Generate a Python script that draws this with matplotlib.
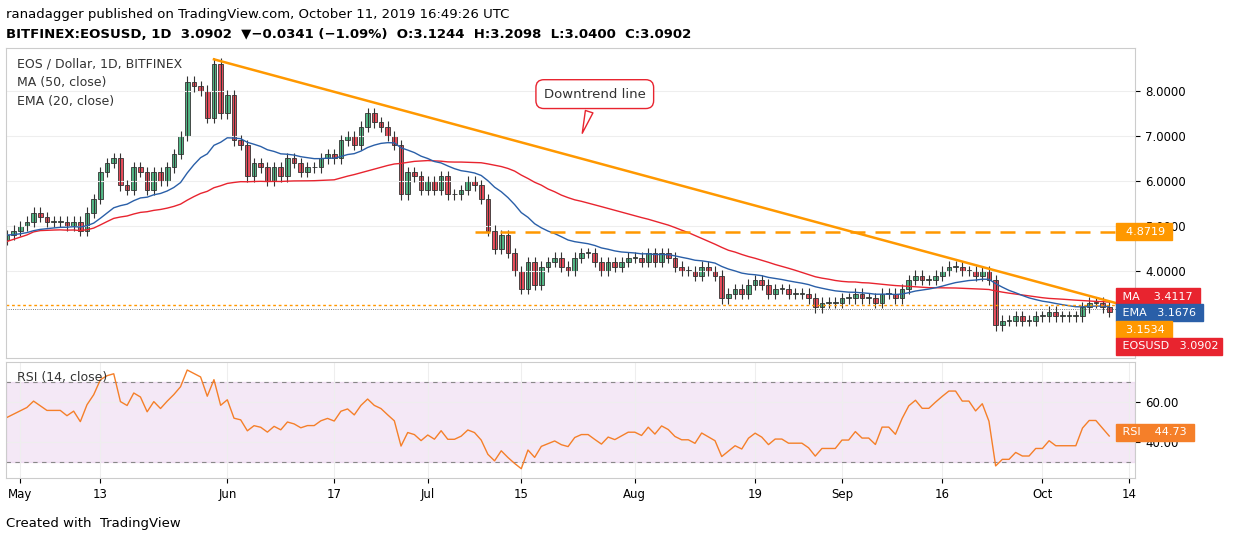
import numpy as np
import pandas as pd
import matplotlib.pyplot as plt

# daily closes from Apr 29 to Oct 11, 2019
closes = [
    4.8, 4.9, 5.0, 5.1, 5.3, 5.2, 5.1,
    5.1, 5.1, 5.0, 5.1, 4.9, 5.3, 5.6,
    6.2, 6.4, 6.5, 5.9, 5.8, 6.3, 6.2,
    5.8, 6.2, 6.0, 6.3, 6.6, 7.0, 8.2,
    8.1, 8.0, 7.4, 8.6, 7.5, 7.9, 6.9,
    6.8, 6.1, 6.4, 6.3, 6.0, 6.3, 6.1,
    6.5, 6.4, 6.2, 6.3, 6.3, 6.5, 6.6,
    6.5, 6.9, 7.0, 6.8, 7.2, 7.5, 7.3,
    7.2, 7.0, 6.8, 5.7, 6.2, 6.1, 5.8,
    6.0, 5.8, 6.1, 5.7, 5.7, 5.8, 6.0,
    5.9, 5.6, 4.9, 4.5, 4.8, 4.4, 4.0,
    3.6, 4.2, 3.7, 4.1, 4.2, 4.3, 4.1,
    4.0, 4.3, 4.4, 4.4, 4.2, 4.0, 4.2,
    4.1, 4.2, 4.3, 4.3, 4.2, 4.4, 4.2,
    4.4, 4.3, 4.1, 4.0, 4.0, 3.9, 4.1,
    4.0, 3.9, 3.4, 3.5, 3.6, 3.5, 3.7,
    3.8, 3.7, 3.5, 3.6, 3.6, 3.5, 3.5,
    3.5, 3.4, 3.2, 3.3, 3.3, 3.3, 3.4,
    3.4, 3.5, 3.4, 3.4, 3.3, 3.5, 3.5,
    3.4, 3.6, 3.8, 3.9, 3.8, 3.8, 3.9,
    4.0, 4.1, 4.1, 4.0, 4.0, 3.9, 4.0,
    3.8, 2.8, 2.9, 2.9, 3.0, 2.9, 2.9,
    3.0, 3.0, 3.1, 3.0, 3.0, 3.0, 3.0,
    3.2, 3.3, 3.3, 3.2, 3.09,
]
dates = pd.date_range("2019-04-29", periods=len(closes), freq="D")
opens = [4.7] + closes[:-1]
tick_labels = ["May", "13", "Jun", "17", "Jul", "15", "Aug", "19", "Sep", "16", "Oct", "14"]
tick_dates = ["2019-05-01", "2019-05-13", "2019-06-01", "2019-06-17", "2019-07-01", "2019-07-15",
              "2019-08-01", "2019-08-19", "2019-09-01", "2019-09-16", "2019-10-01", "2019-10-14"]

s = pd.Series(closes)
ma50 = s.rolling(50, min_periods=1).mean() * 0.97
ema20 = s.ewm(span=20, adjust=False).mean()
d = s.diff().fillna(0)
# Wilder RSI, seeded with a typical daily move so the first bars are not extreme
up, dn, rsi = 0.12, 0.11, []
for v in d:
    up = (up * 13 + max(v, 0)) / 14
    dn = (dn * 13 + max(-v, 0)) / 14
    rsi.append(100 - 100 / (1 + up / dn))
rsi = np.array(rsi)

GREEN, RED = "#53b987", "#eb4d5c"
fig = plt.figure(figsize=(12.34, 5.4), dpi=100)
ax = fig.add_axes([0.005, 0.337, 0.915, 0.574])
ax2 = fig.add_axes([0.005, 0.115, 0.915, 0.215])
x = np.arange(len(closes))
for i in x:
    o, c = opens[i], closes[i]
    col = GREEN if c >= o else RED
    ax.vlines(i, min(o, c) - 0.12, max(o, c) + 0.12, color="#333333", lw=0.8)
    ax.bar(i, max(abs(c - o), 0.02), bottom=min(o, c), width=0.7, color=col, edgecolor="#333333", lw=0.6)
ax.plot(x, ma50, color="#e8242f", lw=1)
ax.plot(x, ema20, color="#2a5fa8", lw=1)
# downtrend line
ax.plot([31, 167], [8.7, 3.25], color="#ff9800", lw=1.8)
ax.hlines(4.8719, 70, 172, color="#ff9800", lw=1.8, linestyles=(0, (6, 4)))
ax.axhline(3.25, color="#ff9800", lw=1, ls=(0, (2, 2)))
ax.axhline(3.1534, color="#555555", lw=0.6, ls=":")
XL = (-0.1, 168.9)
ax.set_xlim(*XL)
ax.set_ylim(2.07, 8.95)
ax.yaxis.tick_right()
ax.set_yticks([4, 5, 6, 7, 8])
ax.set_yticklabels(["4.0000", "5.0000", "6.0000", "7.0000", "8.0000"], fontsize=8.5)
ax.set_xticks([])
ax.grid(color="#eeeeee", lw=0.8)
ax.text(0.01, 0.97, "EOS / Dollar, 1D, BITFINEX\nMA (50, close)\nEMA (20, close)", transform=ax.transAxes,
        va="top", fontsize=9, color="#333333", linespacing=1.6)
for y, lab, col in [(4.8719, "  4.8719 ", "#ff9800"), (3.43, " MA    3.4117 ", "#e8242f"),
                    (3.08, " EMA   3.1676 ", "#2a5fa8"), (2.70, "  3.1534 ", "#ff9800"),
                    (2.33, " EOSUSD   3.0902", "#e8242f")]:
    ax.text(0.986, y, lab, transform=ax.get_yaxis_transform(), va="center", zorder=5,
            fontsize=8, color="white", bbox=dict(boxstyle="square,pad=0.3", fc=col, ec=col))
ax.annotate("Downtrend line", xy=(86, 7.0), xytext=(88, 7.85), fontsize=9.5, color="#333333",
            ha="center", bbox=dict(boxstyle="round,pad=0.6", fc="white", ec="#e8242f"),
            arrowprops=dict(arrowstyle="wedge,tail_width=0.6", fc="white", ec="#e8242f"))

ax2.axhspan(30, 70, color="#9c27b0", alpha=0.1)
ax2.axhline(70, color="#888888", lw=0.8, ls=(0, (4, 4)))
ax2.axhline(30, color="#888888", lw=0.8, ls=(0, (4, 4)))
ax2.plot(x, rsi, color="#f57f29", lw=1)
ax2.set_xlim(*XL)
ax2.set_ylim(22, 80)
ax2.yaxis.tick_right()
ax2.set_yticks([40, 60])
ax2.set_yticklabels(["40.00", "60.00"], fontsize=8.5)
td = [(pd.Timestamp(t) - dates[0]).days for t in tick_dates]
ax2.set_xticks(td)
ax2.set_xticklabels(tick_labels, fontsize=8.5)
ax2.grid(color="#eeeeee", lw=0.8)
ax2.text(0.01, 0.92, "RSI (14, close)", transform=ax2.transAxes, va="top", fontsize=9, color="#333333")
ax2.text(0.986, 44.73, " RSI    44.73 ", transform=ax2.get_yaxis_transform(), va="center", zorder=5,
         fontsize=8, color="white", bbox=dict(boxstyle="square,pad=0.3", fc="#f57f29", ec="#f57f29"))
for a in (ax, ax2):
    for sp in a.spines.values():
        sp.set_color("#cccccc")

fig.text(0.005, 0.985, "ranadagger published on TradingView.com, October 11, 2019 16:49:26 UTC", fontsize=9.5, va="top")
fig.text(0.005, 0.948, "BITFINEX:EOSUSD, 1D  3.0902  \u25bc\u22120.0341 (\u22121.09%)  O:3.1244  H:3.2098  L:3.0400  C:3.0902",
         fontsize=9.5, va="top", weight="bold")
fig.text(0.005, 0.03, "Created with  TradingView", fontsize=9.5, va="center")
fig.savefig("out.png")
